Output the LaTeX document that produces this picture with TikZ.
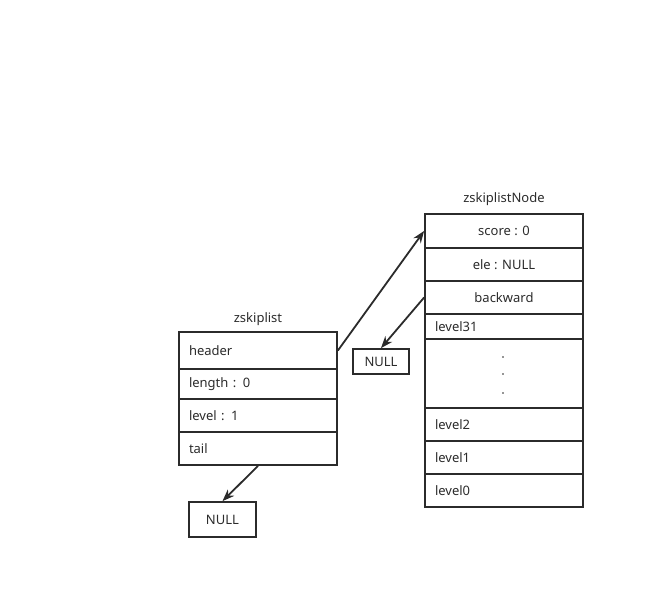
\documentclass[tikz,border=0pt]{standalone}
\usepackage{fontspec}
\setmainfont{Noto Sans}
\usetikzlibrary{arrows.meta}
\definecolor{ink}{HTML}{2B2B2B}
\tikzset{
  cell/.style={draw=ink, line width=1.8pt, minimum width=158pt, inner sep=0pt, font=\fontsize{13}{15}\selectfont, text=ink},
  lcell/.style={cell, text width=138pt, align=left},
  ccell/.style={cell, align=center},
  nullbox/.style={draw=ink, line width=1.8pt, inner sep=0pt, font=\fontsize{13}{15}\selectfont, text=ink},
  title/.style={font=\fontsize{13}{15}\selectfont, text=ink},
  conn/.style={draw=ink, line width=1.8pt, -{Stealth[length=12pt,width=9pt]}}
}
\begin{document}
\begin{tikzpicture}[x=1pt,y=-1pt]
\useasboundingbox (0,0) rectangle (645,599);
% left structure
\node[title] (ttl1) at (258,319) {zskiplist};
\node[lcell, minimum height=37pt] (header) at (258,350.5) {header};
\node[lcell, minimum height=30pt] (length) at (258,384) {length : 0};
\node[lcell, minimum height=33pt] (level) at (258,415.5) {level : 1};
\node[lcell, minimum height=33pt] (tail) at (258,448.5) {tail};
% right structure
\node[title] (ttl2) at (504,199) {zskiplistNode};
\node[ccell, minimum height=34pt] (score) at (504,231) {score : 0};
\node[ccell, minimum height=33pt] (ele) at (504,264.5) {ele : NULL};
\node[ccell, minimum height=33pt] (backward) at (504,297.5) {backward};
\node[lcell, minimum height=25pt] (l31) at (504,326.5) {level31};
\node[cell, minimum height=69pt] (dots) at (504,373.5) {};
\node[lcell, minimum height=33pt] (l2) at (504,424.5) {level2};
\node[lcell, minimum height=33pt] (l1) at (504,457.5) {level1};
\node[lcell, minimum height=33pt] (l0) at (504,490.5) {level0};
\fill[ink] (503,357) circle (0.8);
\fill[ink] (503,374) circle (0.8);
\fill[ink] (503,393) circle (0.8);
% NULL boxes
\node[nullbox, minimum width=56pt, minimum height=25pt] (null1) at (381,361.5) {NULL};
\node[nullbox, minimum width=67pt, minimum height=35pt] (null2) at (222.5,519.5) {NULL};
% connectors
\draw[conn] (header.east) -- (score.west);
\draw[conn] (backward.west) -- (null1.north);
\draw[conn] (tail.south) -- (null2.north);
\end{tikzpicture}
\end{document}
